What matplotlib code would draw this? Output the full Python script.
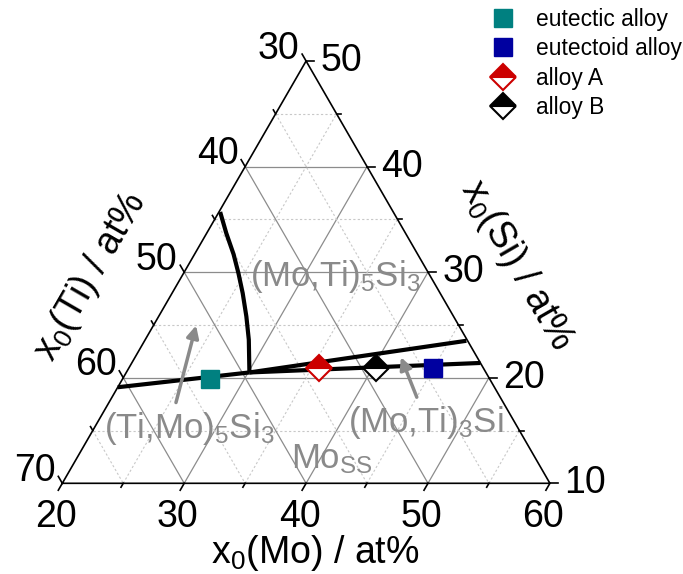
import numpy as np
import matplotlib.pyplot as plt
from matplotlib.lines import Line2D

plt.rcParams["font.family"] = ["Liberation Sans", "DejaVu Sans"]
plt.rcParams["mathtext.fontset"] = "custom"
plt.rcParams["mathtext.rm"] = "Liberation Sans"
plt.rcParams["mathtext.default"] = "regular"

# compositions in at% as (Mo, Si); Ti = 100 - Mo - Si
eutectic_mo, eutectic_si = [27.2], [19.9]
eutectoid_mo, eutectoid_si = [45.0], [20.9]
alloyA_mo, alloyA_si = [35.6], [20.9]
alloyB_mo, alloyB_si = [40.3], [20.9]

# phase boundaries
ti5si3_mo = [20.0, 30.1]
ti5si3_si = [19.1, 20.5]
moss_mo3si_mo = [30.1, 48.6]
moss_mo3si_si = [20.5, 21.4]
mo5si3_mo3si_mo = [30.1, 46.4]
mo5si3_mo3si_si = [20.5, 23.5]
curve_mo = [30.1, 28.5, 27.2, 25.8, 24.5, 23.2, 21.6, 20.1]
curve_si = [20.5, 23.6, 25.8, 28.0, 29.9, 31.7, 33.7, 35.7]

# arrows (tail -> head)
arrow_left = [(25.5, 17.65), (23.5, 24.95)]
arrow_right = [(45.0, 18.16), (41.8, 21.95)]

mo_ticks = [20, 30, 40, 50, 60]
ti_ticks = [30, 40, 50, 60, 70]
si_ticks = [10, 20, 30, 40, 50]

gray = "#8a8a8a"
fs = 27


def tern(mo, si):
    mo = np.asarray(mo, float)
    si = np.asarray(si, float)
    return (mo - 20) + (si - 10) / 2, (si - 10) * np.sqrt(3) / 2


fig = plt.figure(figsize=(6.83, 5.74), dpi=100)
ax = fig.add_axes([0, 0, 1, 1])
sc = 12.19
ax.set_xlim(-62.3 / sc, (683 - 62.3) / sc)
ax.set_ylim(-90.7 / sc, (574 - 90.7) / sc)
ax.axis("off")

# grid
def grid_kw(v):
    if v % 10 == 0:
        return dict(color="#8c8c8c", lw=0.9)
    return dict(color="#c8c8c8", lw=0.8, ls=(0, (2, 2)))

for v in range(25, 60, 5):
    x, y = tern([v, v], [10, 70 - v])          # const Mo
    ax.plot(x, y, zorder=1, **grid_kw(v))
for v in range(15, 50, 5):
    x, y = tern([20, 70 - v], [v, v])          # const Si
    ax.plot(x, y, zorder=1, **grid_kw(v))
for v in range(35, 70, 5):
    x, y = tern([20, 90 - v], [80 - v, 10])    # const Ti
    ax.plot(x, y, zorder=1, **grid_kw(v))

# frame
x, y = tern([20, 60, 20, 20], [10, 10, 50, 10])
ax.plot(x, y, color="black", lw=1.2, zorder=3, solid_joinstyle="miter")

# ticks and labels
s3 = np.sqrt(3) / 2
for v in range(20, 65, 5):
    L = (8 if v % 10 == 0 else 4.5) / sc
    x, y = tern(v, 10)                      # Mo on bottom edge
    ax.plot([x, x - 0.5 * L], [y, y - s3 * L], color="black", lw=1.2, zorder=3)
    x, y = tern(20, 70 - v)                 # Ti = v + 10 on left edge
    ax.plot([x, x - 0.5 * L], [y, y + s3 * L], color="black", lw=1.2, zorder=3)
    x, y = tern(80 - v, v - 10)             # Si = v - 10 on right edge
    ax.plot([x, x + L], [y, y], color="black", lw=1.2, zorder=3)
for v in mo_ticks:
    x, y = tern(v, 10)
    ax.annotate(str(v), (x, y), xytext=(-4.7, -24.3), textcoords="offset points",
                ha="center", va="center", fontsize=fs)
for v in ti_ticks:
    x, y = tern(20, 80 - v)
    ax.annotate(str(v), (x, y), xytext=(-19.8, 9.0), textcoords="offset points",
                ha="center", va="center", fontsize=fs)
for v in si_ticks:
    x, y = tern(70 - v, v)
    ax.annotate(str(v), (x, y), xytext=(25.4, 0.0), textcoords="offset points",
                ha="center", va="center", fontsize=fs)

# axis titles
ax.text(20.79, -6.56, "x$_0$(Mo) / at%", ha="center", va="baseline", fontsize=fs)
ax.text(2.32, 16.98, "x$_0$(Ti) / at%", ha="center", va="center", fontsize=fs,
        rotation=60, rotation_mode="anchor")
ax.text(37.26, 17.9, "x$_0$(Si) / at%", ha="center", va="center", fontsize=fs,
        rotation=-60, rotation_mode="anchor")

# phase boundaries
for mo, si in [(ti5si3_mo, ti5si3_si), (moss_mo3si_mo, moss_mo3si_si),
               (mo5si3_mo3si_mo, mo5si3_mo3si_si), (curve_mo, curve_si)]:
    x, y = tern(mo, si)
    ax.plot(x, y, color="black", lw=3, zorder=4, solid_capstyle="butt")

# phase labels
labels = [("(Mo,Ti)$_5$Si$_3$", 33.0, 28.72), ("(Ti,Mo)$_5$Si$_3$", 28.3, 14.27),
          ("(Mo,Ti)$_3$Si", 47.4, 14.9), ("Mo$_{SS}$", 41.4, 11.42)]
for txt, mo, si in labels:
    x, y = tern(mo, si)
    ax.text(x, y, txt, color=gray, fontsize=25, ha="center", va="baseline", zorder=5)

for (t, h) in [arrow_left, arrow_right]:
    ax.annotate("", xy=tern(*h), xytext=tern(*t),
                arrowprops=dict(arrowstyle="-|>", color=gray, lw=2.5,
                                mutation_scale=18, shrinkA=0, shrinkB=0), zorder=5)

# alloys
x, y = tern(eutectic_mo, eutectic_si)
ax.plot(x, y, "s", ms=13, color="#008080", mec="#008080", mew=1, zorder=6)
x, y = tern(eutectoid_mo, eutectoid_si)
ax.plot(x, y, "s", ms=13, color="#0000a0", mec="#0000a0", mew=1, zorder=6)
x, y = tern(alloyA_mo, alloyA_si)
ax.plot(x, y, "D", ms=13, fillstyle="top", mfc="#cc0000", mfcalt="white",
        mec="#cc0000", mew=1.5, zorder=6)
x, y = tern(alloyB_mo, alloyB_si)
ax.plot(x, y, "D", ms=13, fillstyle="top", mfc="black", mfcalt="white",
        mec="black", mew=1.5, zorder=6)

handles = [
    Line2D([], [], ls="none", marker="s", ms=13, color="#008080"),
    Line2D([], [], ls="none", marker="s", ms=13, color="#0000a0"),
    Line2D([], [], ls="none", marker="D", ms=13, fillstyle="top", mfc="#cc0000",
           mfcalt="white", mec="#cc0000", mew=1.5),
    Line2D([], [], ls="none", marker="D", ms=13, fillstyle="top", mfc="black",
           mfcalt="white", mec="black", mew=1.5),
]
fig.legend(handles, ["eutectic alloy", "eutectoid alloy", "alloy A", "alloy B"],
           loc="upper left", bbox_to_anchor=(493 / 683, 1 - 8 / 574),
           frameon=False, fontsize=16.4, handlelength=0.88, handletextpad=1.0,
           labelspacing=0.28, borderpad=0, borderaxespad=0)

fig.savefig("out.png", dpi=100)
